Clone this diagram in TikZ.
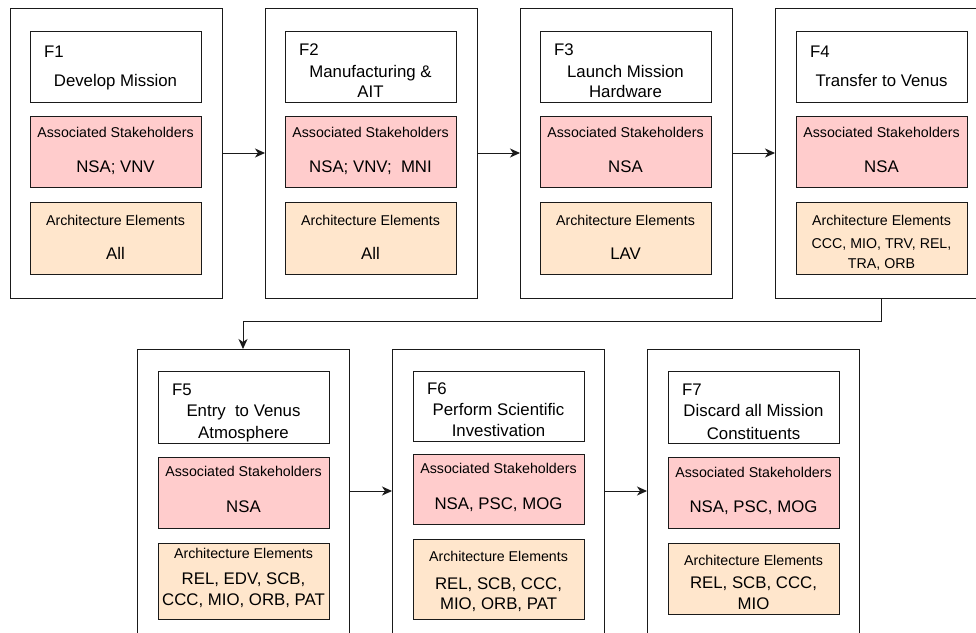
\documentclass[tikz,border=0pt]{standalone}
\usepackage{fontspec}
\setmainfont{Liberation Sans}
\usetikzlibrary{arrows.meta}

\definecolor{linec}{HTML}{1A1A1A}
\definecolor{stakefill}{HTML}{FFCCCC}
\definecolor{archfill}{HTML}{FFE6CC}

\tikzset{
  panel/.style={draw=linec, line width=1pt, fill=white, anchor=north west,
    inner sep=0pt, outer sep=0pt, minimum width=212pt},
  card/.style={draw=linec, line width=1pt, anchor=north west,
    inner sep=0pt, outer sep=0pt, minimum width=171pt},
  titlecard/.style={card, fill=white},
  stakecard/.style={card, fill=stakefill},
  archcard/.style={card, fill=archfill},
  big/.style={font=\fontsize{16.8}{20}\selectfont, inner sep=0pt, anchor=base},
  small/.style={font=\fontsize{14.2}{17}\selectfont, inner sep=0pt, anchor=base},
  tag/.style={big, anchor=base west},
  flow/.style={draw=linec, line width=1pt, -{Stealth[length=10pt,width=9pt,inset=3pt]}}
}

\begin{document}
\begin{tikzpicture}[x=1pt, y=-1pt]
\useasboundingbox (0,0) rectangle (976,632);
\clip (0,0) rectangle (976,632);

% ---------- top row: F1 to F4 ----------
\node[panel, minimum height=290pt] (o1) at (10,8) {};
\node[titlecard, minimum height=71pt] (h1) at (30,31) {};
\node[stakecard, minimum height=71pt] (s1) at (30,116) {};
\node[archcard, minimum height=72pt] (a1) at (30,202) {};
\node[tag] (f1) at (44,57) {F1};
\node[big] (n1) at (115.5,86) {Develop Mission};
\node[small] (sl1) at (115.5,137) {Associated Stakeholders};
\node[big] (sv1) at (115.5,172) {NSA; VNV};
\node[small] (al1) at (115.5,225) {Architecture Elements};
\node[big] (av1) at (115.5,259) {All};

\node[panel, minimum height=290pt] (o2) at (265,8) {};
\node[titlecard, minimum height=71pt] (h2) at (285,31) {};
\node[stakecard, minimum height=71pt] (s2) at (285,116) {};
\node[archcard, minimum height=72pt] (a2) at (285,202) {};
\node[tag] (f2) at (299,55) {F2};
\node[big] (n2a) at (370.5,77) {Manufacturing \&};
\node[big] (n2b) at (370.5,97) {AIT};
\node[small] (sl2) at (370.5,137) {Associated Stakeholders};
\node[big] (sv2) at (370.5,172) {NSA; VNV;~ MNI};
\node[small] (al2) at (370.5,225) {Architecture Elements};
\node[big] (av2) at (370.5,259) {All};

\node[panel, minimum height=290pt] (o3) at (520,8) {};
\node[titlecard, minimum height=71pt] (h3) at (540,31) {};
\node[stakecard, minimum height=71pt] (s3) at (540,116) {};
\node[archcard, minimum height=72pt] (a3) at (540,202) {};
\node[tag] (f3) at (554,55) {F3};
\node[big] (n3a) at (625.5,77) {Launch Mission};
\node[big] (n3b) at (625.5,97) {Hardware};
\node[small] (sl3) at (625.5,137) {Associated Stakeholders};
\node[big] (sv3) at (625.5,172) {NSA};
\node[small] (al3) at (625.5,225) {Architecture Elements};
\node[big] (av3) at (625.5,259) {LAV};

\node[panel, minimum height=290pt] (o4) at (775,8) {};
\node[titlecard, minimum height=71pt] (h4) at (796,31) {};
\node[stakecard, minimum height=71pt] (s4) at (796,116) {};
\node[archcard, minimum height=72pt] (a4) at (796,202) {};
\node[tag] (f4) at (810,57) {F4};
\node[big] (n4) at (881.5,86) {Transfer to Venus};
\node[small] (sl4) at (881.5,137) {Associated Stakeholders};
\node[big] (sv4) at (881.5,172) {NSA};
\node[small] (al4) at (881.5,225) {Architecture Elements};
\node[small] (av4a) at (881.5,248) {CCC, MIO, TRV, REL,};
\node[small] (av4b) at (881.5,268) {TRA, ORB};

% ---------- bottom row: F5 to F7 ----------
\node[panel, minimum height=290pt] (o5) at (137,349) {};
\node[titlecard, minimum height=72pt] (h5) at (158,371) {};
\node[stakecard, minimum height=71pt] (s5) at (158,457) {};
\node[archcard, minimum height=76pt] (a5) at (158,543) {};
\node[tag] (f5) at (172,395) {F5};
\node[big] (n5a) at (243.5,416) {Entry~ to Venus};
\node[big] (n5b) at (243.5,438) {Atmosphere};
\node[small] (sl5) at (243.5,476) {Associated Stakeholders};
\node[big] (sv5) at (243.5,512) {NSA};
\node[small] (al5) at (243.5,558) {Architecture Elements};
\node[big] (av5a) at (243.5,584) {REL, EDV, SCB,};
\node[big] (av5b) at (243.5,605) {CCC, MIO, ORB, PAT};

\node[panel, minimum height=290pt] (o6) at (392,349) {};
\node[titlecard, minimum height=70pt] (h6) at (413,371) {};
\node[stakecard, minimum height=70pt] (s6) at (413,454) {};
\node[archcard, minimum height=80pt] (a6) at (413,539) {};
\node[tag] (f6) at (427,394) {F6};
\node[big] (n6a) at (498.5,415) {Perform Scientific};
\node[big] (n6b) at (498.5,436) {Investivation};
\node[small] (sl6) at (498.5,473) {Associated Stakeholders};
\node[big] (sv6) at (498.5,509) {NSA, PSC, MOG};
\node[small] (al6) at (498.5,561) {Architecture Elements};
\node[big] (av6a) at (498.5,589) {REL, SCB, CCC,};
\node[big] (av6b) at (498.5,609) {MIO, ORB, PAT};

\node[panel, minimum height=290pt] (o7) at (647,349) {};
\node[titlecard, minimum height=72pt] (h7) at (668,371) {};
\node[stakecard, minimum height=71pt] (s7) at (668,457) {};
\node[archcard, minimum height=71pt] (a7) at (668,543) {};
\node[tag] (f7) at (682,395) {F7};
\node[big] (n7a) at (753.5,416) {Discard all Mission};
\node[big] (n7b) at (753.5,439) {Constituents};
\node[small] (sl7) at (753.5,477) {Associated Stakeholders};
\node[big] (sv7) at (753.5,512) {NSA, PSC, MOG};
\node[small] (al7) at (753.5,565) {Architecture Elements};
\node[big] (av7a) at (753.5,588) {REL, SCB, CCC,};
\node[big] (av7b) at (753.5,609) {MIO};

% ---------- flow between stages ----------
\draw[flow] (o1.east) -- (o2.west);
\draw[flow] (o2.east) -- (o3.west);
\draw[flow] (o3.east) -- (o4.west);
\draw[flow] (o4.south) -- ++(0,23) -| (o5.north);
\draw[flow] ([yshift=3pt]o5.east) -- ([yshift=3pt]o6.west);
\draw[flow] ([yshift=3pt]o6.east) -- ([yshift=3pt]o7.west);
\end{tikzpicture}
\end{document}
